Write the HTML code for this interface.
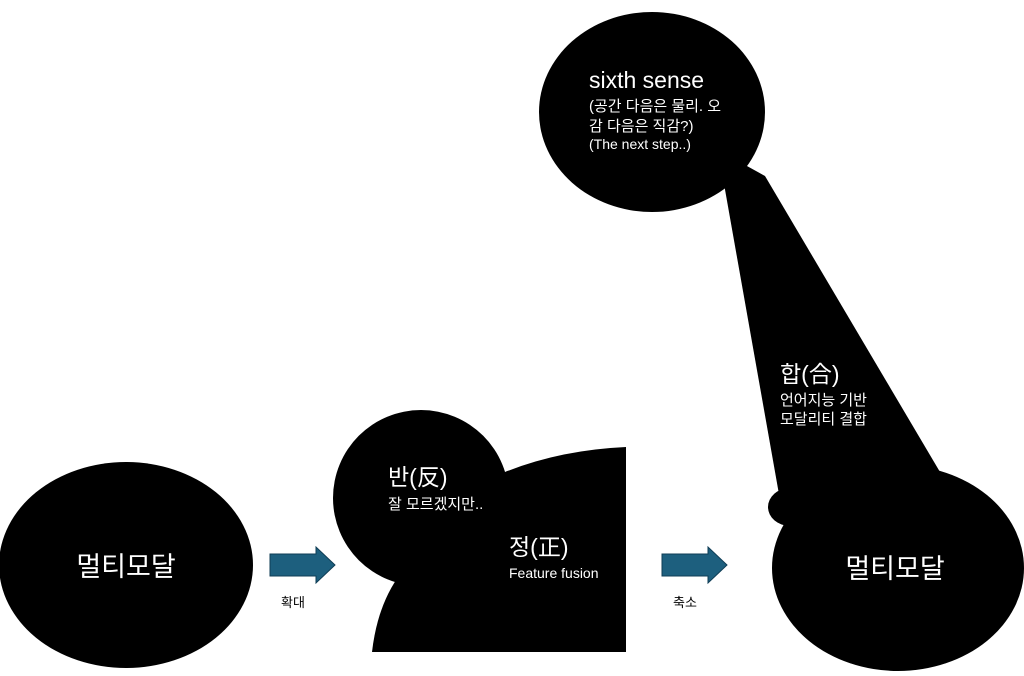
<!DOCTYPE html>
<html><head><meta charset="utf-8"><style>
html,body{margin:0;padding:0;background:#fff;width:1024px;height:676px;overflow:hidden}
text{font-family:"Liberation Sans","Noto Sans CJK KR",sans-serif;fill:#fff}
</style></head><body>
<svg width="1024" height="676" viewBox="0 0 1024 676">
<ellipse cx="126" cy="565" rx="127" ry="103" fill="#000"/>
<circle cx="421" cy="498" r="88" fill="#000"/>
<path d="M372,652 Q378,600 405,568 L505,472 Q560,450 626,447 L626,652 Z" fill="#000"/>
<ellipse cx="652" cy="112" rx="113" ry="100" fill="#000"/>
<polygon points="718,150 765,176 940,472 900,520 790,520 780,500" fill="#000"/>
<ellipse cx="790" cy="507" rx="22" ry="19" fill="#000"/>
<ellipse cx="898" cy="568" rx="126" ry="103" fill="#000"/>
<polygon points="270,554 316,554 316,547 335,565 316,583 316,576 270,576" fill="#1d5f7e" stroke="#0f3d55" stroke-width="1"/>
<polygon points="662,554 708,554 708,547 727,565 708,583 708,576 662,576" fill="#1d5f7e" stroke="#0f3d55" stroke-width="1"/>
<text x="126" y="576" font-size="27" text-anchor="middle">멀티모달</text>
<text x="895" y="578" font-size="27" text-anchor="middle">멀티모달</text>
<text x="388" y="485" font-size="23">반(反)</text>
<text x="388" y="509" font-size="15">잘 모르겠지만..</text>
<text x="509" y="555" font-size="23">정(正)</text>
<text x="509" y="578" font-size="14">Feature fusion</text>
<text x="589" y="88" font-size="23">sixth sense</text>
<text x="589" y="111" font-size="15">(공간 다음은 물리. 오</text>
<text x="589" y="131" font-size="15">감 다음은 직감?)</text>
<text x="589" y="149" font-size="14">(The next step..)</text>
<text x="780" y="382" font-size="23">합(合)</text>
<text x="780" y="405" font-size="15">언어지능 기반</text>
<text x="780" y="424" font-size="15">모달리티 결합</text>
<text x="281" y="607" font-size="13" style="fill:#000">확대</text>
<text x="673" y="607" font-size="13" style="fill:#000">축소</text>
</svg>
</body></html>
